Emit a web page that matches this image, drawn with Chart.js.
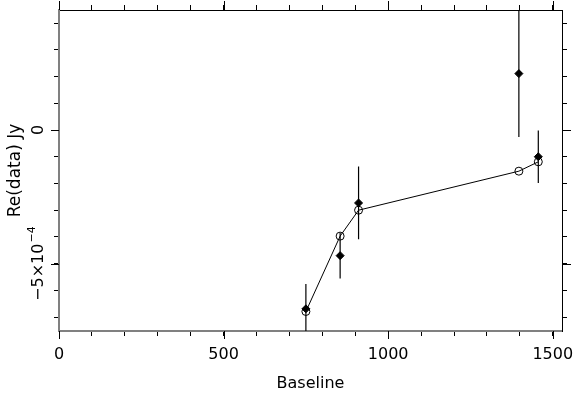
<!DOCTYPE html>
<html><head><meta charset="utf-8">
<script src="https://cdn.jsdelivr.net/npm/chart.js@4.4.0/dist/chart.umd.min.js"></script>
<style>html,body{margin:0;padding:0;background:#fff}#wrap{width:575px;height:398px}</style>
</head><body><div id="wrap"><canvas id="c" width="575" height="398"></canvas></div>
<script>
const baselines = [750, 854, 910, 1397, 1456];
const dataValues = [-6.69e-4, -4.70e-4, -2.73e-4, 2.11e-4, -1.00e-4];
const dataErrors = [0.93e-4, 0.86e-4, 1.36e-4, 2.37e-4, 0.98e-4];
const modelValues = [-6.79e-4, -3.97e-4, -3.00e-4, -1.54e-4, -1.19e-4];
const xTickValues = [0, 500, 1000, 1500];
const xTickLabels = ['0', '500', '1000', '1500'];
const yTickValues = [0, -5e-4];
const yTickLabels = [['0', ''], ['\u22125\u00d710', '\u22124']];
const xRange = [0, 1528];
const yRange = [-7.52e-4, 4.49e-4];
const xStep = 100;
const yStep = 1e-4;

const FONT = '"DejaVu Sans", sans-serif';

const errData = [];
baselines.forEach((b, i) => {
  errData.push({x: b, y: dataValues[i] - dataErrors[i]});
  errData.push({x: b, y: dataValues[i] + dataErrors[i]});
  errData.push({x: b, y: null});
});

const majorTicks = {
  id: 'majorTicks',
  afterDraw(chart) {
    const ctx = chart.ctx, a = chart.chartArea;
    const sx = chart.scales.x, sy = chart.scales.y;
    ctx.save();
    ctx.strokeStyle = '#000';
    ctx.lineWidth = 1;
    ctx.beginPath();
    xTickValues.forEach(v => {
      const px = Math.round(sx.getPixelForValue(v)) + 0.5;
      ctx.moveTo(px, a.bottom); ctx.lineTo(px, a.bottom + 8);
      ctx.moveTo(px, a.top); ctx.lineTo(px, a.top - 9);
    });
    yTickValues.forEach(v => {
      const py = Math.round(sy.getPixelForValue(v)) + 0.5;
      ctx.moveTo(a.left, py); ctx.lineTo(a.left - 8, py);
      ctx.moveTo(a.right, py); ctx.lineTo(a.right + 9, py);
    });
    ctx.stroke();
    // rotated y tick labels (main part + superscript)
    ctx.fillStyle = '#000';
    ctx.textBaseline = 'alphabetic';
    yTickValues.forEach((v, i) => {
      const [main, sup] = yTickLabels[i];
      const py = sy.getPixelForValue(v);
      ctx.font = '16px ' + FONT;
      const wMain = ctx.measureText(main).width;
      ctx.font = '11px ' + FONT;
      const wSup = sup ? ctx.measureText(sup).width + 1 : 0;
      const total = wMain + wSup;
      ctx.save();
      ctx.translate(a.left - 16, py);
      ctx.rotate(-Math.PI / 2);
      ctx.textAlign = 'left';
      ctx.font = '16px ' + FONT;
      ctx.fillText(main, -total / 2, 0);
      if (sup) {
        ctx.font = '11px ' + FONT;
        ctx.fillText(sup, -total / 2 + wMain + 1, -8);
      }
      ctx.restore();
    });
    ctx.restore();
  }
};

function noPad(s) { s.paddingLeft = 0; s.paddingRight = 0; s.paddingTop = 0; s.paddingBottom = 0; }

new Chart(document.getElementById('c'), {
  type: 'line',
  data: {
    datasets: [
      {
        label: 'data',
        data: baselines.map((b, i) => ({x: b, y: dataValues[i]})),
        showLine: false,
        pointStyle: 'rectRot',
        pointRadius: 4,
        pointBackgroundColor: '#000',
        pointBorderColor: '#000',
        pointBorderWidth: 1
      },
      {
        label: 'model',
        data: baselines.map((b, i) => ({x: b, y: modelValues[i]})),
        borderColor: '#000',
        borderWidth: 1,
        tension: 0,
        pointStyle: 'circle',
        pointRadius: 4,
        pointBackgroundColor: 'rgba(0,0,0,0)',
        pointBorderColor: '#000',
        pointBorderWidth: 1
      },
      {
        label: 'errors',
        data: errData,
        borderColor: '#000',
        borderWidth: 1.2,
        pointRadius: 0,
        spanGaps: false
      }
    ]
  },
  options: {
    responsive: false,
    animation: false,
    devicePixelRatio: 1,
    layout: {padding: 0},
    plugins: {legend: {display: false}, tooltip: {enabled: false}},
    scales: {
      x: {
        type: 'linear', position: 'bottom', min: xRange[0], max: xRange[1],
        afterFit: s => { s.height = 67; noPad(s); },
        border: {display: true, color: '#808080', width: 2},
        grid: {drawOnChartArea: false, drawTicks: true, tickLength: 5, color: '#000', tickColor: '#000'},
        ticks: {
          stepSize: xStep, includeBounds: false, autoSkip: false, maxRotation: 0, minRotation: 0,
          padding: 9, color: '#000', font: {family: FONT, size: 16},
          callback: v => { const i = xTickValues.indexOf(v); return i >= 0 ? xTickLabels[i] : ''; }
        },
        title: {display: true, text: 'Baseline', color: '#000', font: {family: FONT, size: 16}, padding: {top: 0, bottom: 5}}
      },
      x2: {
        type: 'linear', position: 'top', min: xRange[0], max: xRange[1],
        afterFit: s => { s.height = 10; noPad(s); },
        border: {display: true, color: '#000', width: 1},
        grid: {drawOnChartArea: false, drawTicks: true, tickLength: 5, color: '#000', tickColor: '#000'},
        ticks: {display: false, stepSize: xStep, includeBounds: false, autoSkip: false}
      },
      y: {
        type: 'linear', position: 'left', min: yRange[0], max: yRange[1],
        afterFit: s => { s.width = 59; noPad(s); },
        border: {display: true, color: '#808080', width: 2},
        grid: {drawOnChartArea: false, drawTicks: true, tickLength: 5, color: '#000', tickColor: '#000'},
        ticks: {display: false, stepSize: yStep, includeBounds: false, autoSkip: false},
        title: {display: true, text: 'Re(data) Jy', color: '#000', font: {family: FONT, size: 17}, padding: {top: 5, bottom: 0}}
      },
      y2: {
        type: 'linear', position: 'right', min: yRange[0], max: yRange[1],
        afterFit: s => { s.width = 13; noPad(s); },
        border: {display: true, color: '#000', width: 1},
        grid: {drawOnChartArea: false, drawTicks: true, tickLength: 5, color: '#000', tickColor: '#000'},
        ticks: {display: false, stepSize: yStep, includeBounds: false, autoSkip: false}
      }
    }
  },
  plugins: [majorTicks]
});
</script>
</body></html>
